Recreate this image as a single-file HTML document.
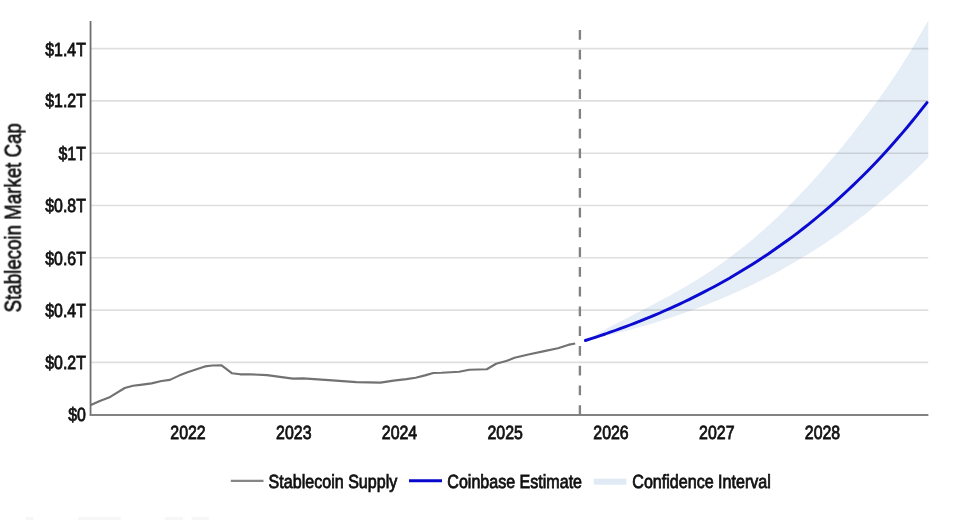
<!DOCTYPE html>
<html><head><meta charset="utf-8"><title>Stablecoin Market Cap</title>
<style>
html,body{margin:0;padding:0;background:#fff;}
body{width:975px;height:520px;overflow:hidden;}
svg{display:block;filter:blur(0.4px);font-family:"Liberation Sans",sans-serif;text-rendering:geometricPrecision;}
</style></head><body>
<svg width="975" height="520" viewBox="0 0 975 520">
<rect x="0" y="0" width="975" height="520" fill="#ffffff"/>
<polygon points="584.4,340.8 589.4,338.0 594.4,335.3 599.4,332.6 604.3,329.9 609.3,327.2 614.3,324.6 619.3,322.0 624.3,319.5 629.3,316.9 634.2,314.3 639.2,311.7 644.2,309.2 649.2,306.6 654.2,304.0 659.2,301.3 664.1,298.6 669.1,295.9 674.1,293.2 679.1,290.3 684.1,287.5 689.1,284.5 694.0,281.5 699.0,278.4 704.0,275.3 709.0,272.0 714.0,268.7 719.0,265.2 724.0,261.7 728.9,258.1 733.9,254.3 738.9,250.5 743.9,246.6 748.9,242.5 753.9,238.4 758.8,234.1 763.8,229.7 768.8,225.2 773.8,220.6 778.8,215.9 783.8,211.1 788.7,206.1 793.7,201.1 798.7,195.9 803.7,190.6 808.7,185.3 813.7,179.8 818.7,174.2 823.6,168.5 828.6,162.8 833.6,156.9 838.6,150.9 843.6,144.9 848.6,138.7 853.5,132.4 858.5,126.0 863.5,119.6 868.5,113.0 873.5,106.2 878.5,99.4 883.4,92.4 888.4,85.2 893.4,77.9 898.4,70.4 903.4,62.6 908.4,54.7 913.3,46.4 918.3,37.8 923.3,28.9 928.3,20.6 928.3,157.5 923.3,162.5 918.3,167.4 913.3,172.2 908.4,176.9 903.4,181.5 898.4,186.1 893.4,190.5 888.4,194.9 883.4,199.1 878.5,203.3 873.5,207.4 868.5,211.5 863.5,215.4 858.5,219.3 853.5,223.1 848.6,226.8 843.6,230.4 838.6,233.9 833.6,237.4 828.6,240.8 823.6,244.2 818.7,247.4 813.7,250.6 808.7,253.8 803.7,256.8 798.7,259.8 793.7,262.8 788.7,265.6 783.8,268.4 778.8,271.2 773.8,273.9 768.8,276.5 763.8,279.1 758.8,281.6 753.9,284.0 748.9,286.4 743.9,288.8 738.9,291.1 733.9,293.3 728.9,295.5 724.0,297.6 719.0,299.7 714.0,301.8 709.0,303.8 704.0,305.7 699.0,307.6 694.0,309.5 689.1,311.3 684.1,313.1 679.1,314.8 674.1,316.5 669.1,318.2 664.1,319.8 659.2,321.3 654.2,322.9 649.2,324.4 644.2,325.8 639.2,327.3 634.2,328.6 629.3,330.0 624.3,331.3 619.3,332.6 614.3,333.9 609.3,335.1 604.3,336.3 599.4,337.5 594.4,338.6 589.4,339.7 584.4,340.8" fill="#e5edf6"/>
<line x1="91" y1="362.4" x2="928.3" y2="362.4" stroke="#000" stroke-opacity="0.125" stroke-width="1.6"/>
<line x1="91" y1="310.1" x2="928.3" y2="310.1" stroke="#000" stroke-opacity="0.125" stroke-width="1.6"/>
<line x1="91" y1="257.8" x2="928.3" y2="257.8" stroke="#000" stroke-opacity="0.125" stroke-width="1.6"/>
<line x1="91" y1="205.5" x2="928.3" y2="205.5" stroke="#000" stroke-opacity="0.125" stroke-width="1.6"/>
<line x1="91" y1="153.2" x2="928.3" y2="153.2" stroke="#000" stroke-opacity="0.125" stroke-width="1.6"/>
<line x1="91" y1="100.9" x2="928.3" y2="100.9" stroke="#000" stroke-opacity="0.125" stroke-width="1.6"/>
<line x1="91" y1="48.6" x2="928.3" y2="48.6" stroke="#000" stroke-opacity="0.125" stroke-width="1.6"/>
<line x1="579.9" y1="414.9" x2="579.9" y2="21" stroke="#828282" stroke-width="2.35" stroke-dasharray="9.7 10.045"/>
<polyline points="90.9,405.0 99.8,400.9 109.0,397.6 124.7,388.0 133.0,385.8 140.4,384.9 151.5,383.4 161.6,381.0 169.9,379.9 179.1,375.6 187.5,372.3 195.8,369.5 205.0,366.4 212.4,365.5 221.6,365.3 231.8,373.2 240.1,374.3 249.3,374.3 267.0,375.1 292.8,378.6 303.0,378.4 328.8,380.1 356.5,382.1 380.5,382.6 393.5,380.6 406.4,379.1 415.6,377.8 425.0,375.4 433.3,373.0 441.6,372.8 459.2,371.7 469.3,369.8 486.8,369.3 496.1,363.8 506.2,361.0 514.5,357.8 528.4,354.5 543.1,351.4 557.9,348.2 568.1,344.9 575.2,343.5" fill="none" stroke="#727272" stroke-width="2.15" stroke-linejoin="round" stroke-linecap="butt"/>
<polyline points="585.4,340.5 590.4,338.9 595.3,337.3 600.3,335.6 605.2,334.0 610.2,332.2 615.1,330.5 620.1,328.7 625.0,326.9 630.0,325.0 634.9,323.1 639.9,321.2 644.8,319.2 649.8,317.2 654.7,315.1 659.7,313.0 664.6,310.8 669.6,308.6 674.5,306.4 679.5,304.1 684.4,301.8 689.4,299.4 694.3,296.9 699.3,294.4 704.2,291.9 709.2,289.3 714.1,286.7 719.1,284.0 724.0,281.2 729.0,278.4 733.9,275.5 738.9,272.6 743.8,269.6 748.8,266.5 753.7,263.4 758.7,260.2 763.6,257.0 768.6,253.7 773.5,250.3 778.5,246.8 783.4,243.3 788.4,239.7 793.3,236.1 798.3,232.3 803.2,228.5 808.2,224.6 813.1,220.6 818.1,216.5 823.0,212.4 828.0,208.1 832.9,203.8 837.9,199.4 842.8,194.9 847.8,190.3 852.7,185.6 857.7,180.8 862.6,176.0 867.6,171.0 872.5,165.9 877.5,160.7 882.4,155.4 887.4,150.0 892.3,144.5 897.3,138.8 902.2,133.1 907.2,127.2 912.1,121.3 917.1,115.2 922.0,108.9 927.0,102.6" fill="none" stroke="#0a0ad0" stroke-width="2.9" stroke-linejoin="round" stroke-linecap="round"/>
<line x1="90.55" y1="21" x2="90.55" y2="415.6" stroke="#6f6f6f" stroke-width="1.8"/>
<line x1="89.65" y1="414.95" x2="928.4" y2="414.95" stroke="#828282" stroke-width="2"/>
<g id="txt" opacity="0.999">
<text transform="translate(85.9,421) scale(0.837,1)" text-anchor="end" font-size="19" fill="#111111" stroke="#111111" stroke-width="0.8">$0</text>
<text transform="translate(85.9,369) scale(0.837,1)" text-anchor="end" font-size="19" fill="#111111" stroke="#111111" stroke-width="0.8">$0.2T</text>
<text transform="translate(85.9,317) scale(0.837,1)" text-anchor="end" font-size="19" fill="#111111" stroke="#111111" stroke-width="0.8">$0.4T</text>
<text transform="translate(85.9,265) scale(0.837,1)" text-anchor="end" font-size="19" fill="#111111" stroke="#111111" stroke-width="0.8">$0.6T</text>
<text transform="translate(85.9,212) scale(0.837,1)" text-anchor="end" font-size="19" fill="#111111" stroke="#111111" stroke-width="0.8">$0.8T</text>
<text transform="translate(85.9,160) scale(0.837,1)" text-anchor="end" font-size="19" fill="#111111" stroke="#111111" stroke-width="0.8">$1T</text>
<text transform="translate(85.9,107) scale(0.837,1)" text-anchor="end" font-size="19" fill="#111111" stroke="#111111" stroke-width="0.8">$1.2T</text>
<text transform="translate(85.9,56) scale(0.837,1)" text-anchor="end" font-size="19" fill="#111111" stroke="#111111" stroke-width="0.8">$1.4T</text>
<text transform="translate(188.0,439) scale(0.837,1)" text-anchor="middle" font-size="19" fill="#111111" stroke="#111111" stroke-width="0.8">2022</text>
<text transform="translate(293.8,439) scale(0.837,1)" text-anchor="middle" font-size="19" fill="#111111" stroke="#111111" stroke-width="0.8">2023</text>
<text transform="translate(399.5,439) scale(0.837,1)" text-anchor="middle" font-size="19" fill="#111111" stroke="#111111" stroke-width="0.8">2024</text>
<text transform="translate(505.2,439) scale(0.837,1)" text-anchor="middle" font-size="19" fill="#111111" stroke="#111111" stroke-width="0.8">2025</text>
<text transform="translate(611.0,439) scale(0.837,1)" text-anchor="middle" font-size="19" fill="#111111" stroke="#111111" stroke-width="0.8">2026</text>
<text transform="translate(716.8,439) scale(0.837,1)" text-anchor="middle" font-size="19" fill="#111111" stroke="#111111" stroke-width="0.8">2027</text>
<text transform="translate(822.5,439) scale(0.837,1)" text-anchor="middle" font-size="19" fill="#111111" stroke="#111111" stroke-width="0.8">2028</text>
<line x1="230.8" y1="480.8" x2="263.5" y2="480.8" stroke="#858585" stroke-width="2.3"/>
<text transform="translate(268.6,488) scale(0.846,1)" text-anchor="start" font-size="19" fill="#111111" stroke="#111111" stroke-width="0.8">Stablecoin Supply</text>
<line x1="409" y1="480.8" x2="442" y2="480.8" stroke="#0808cc" stroke-width="3"/>
<text transform="translate(447.3,488) scale(0.845,1)" text-anchor="start" font-size="19" fill="#111111" stroke="#111111" stroke-width="0.8">Coinbase Estimate</text>
<rect x="593.8" y="478.7" width="32.5" height="6" fill="#e0eaf5"/>
<text transform="translate(632.3,488) scale(0.846,1)" text-anchor="start" font-size="19" fill="#111111" stroke="#111111" stroke-width="0.8">Confidence Interval</text>
<rect x="25.5" y="517" width="8.0" height="3" fill="#000" opacity="0.035"/>
<rect x="77.8" y="517" width="43.0" height="3" fill="#000" opacity="0.035"/>
<rect x="165" y="517" width="18" height="3" fill="#000" opacity="0.035"/>
<rect x="191.5" y="517" width="17.5" height="3" fill="#000" opacity="0.035"/>
<text transform="translate(20.7,217.7) rotate(-90) scale(0.813,1.0)" text-anchor="middle" font-size="23" fill="#111111" stroke="#111111" stroke-width="0.7">Stablecoin Market Cap</text>
</g>
</svg>
</body></html>
